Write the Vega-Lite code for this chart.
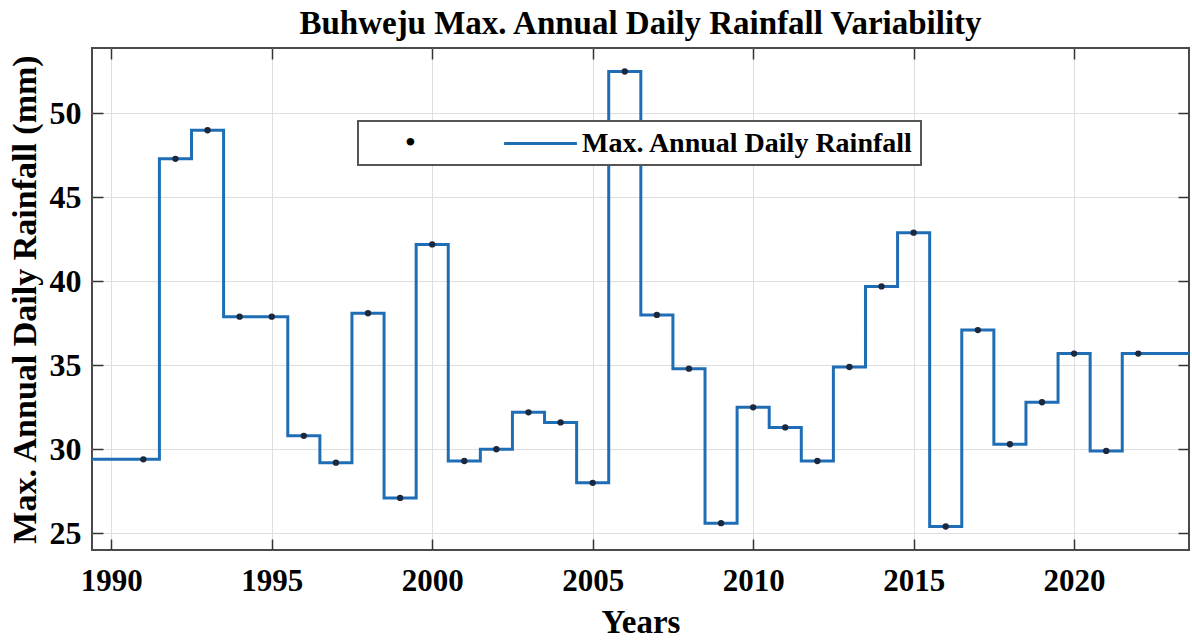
{
  "$schema": "https://vega.github.io/schema/vega-lite/v6.json",
  "width": 1097,
  "height": 502,
  "autosize": "none",
  "padding": {"left": 92, "top": 48, "right": 3, "bottom": 92},
  "background": "white",
  "config": {
    "font": "Liberation Serif",
    "view": {"stroke": "#4a4a4a", "strokeWidth": 2},
    "axis": {
      "labelFont": "Liberation Serif",
      "labelFontWeight": "bold",
      "labelColor": "black",
      "titleFont": "Liberation Serif",
      "titleFontWeight": "bold",
      "titleColor": "black",
      "gridColor": "#dedede",
      "gridWidth": 1,
      "domain": false,
      "tickColor": "#333333",
      "tickWidth": 1.5
    }
  },
  "title": {
    "text": "Buhweju Max. Annual Daily Rainfall Variability",
    "fontSize": 33,
    "font": "Liberation Serif",
    "fontWeight": "bold",
    "color": "black",
    "anchor": "middle",
    "offset": 6
  },
  "data": {
    "values": [
      {"year": 1989, "value": 29.4},
      {"year": 1991, "value": 29.4},
      {"year": 1992, "value": 47.3},
      {"year": 1993, "value": 49.0},
      {"year": 1994, "value": 37.9},
      {"year": 1995, "value": 37.9},
      {"year": 1996, "value": 30.8},
      {"year": 1997, "value": 29.2},
      {"year": 1998, "value": 38.1},
      {"year": 1999, "value": 27.1},
      {"year": 2000, "value": 42.2},
      {"year": 2001, "value": 29.3},
      {"year": 2002, "value": 30.0},
      {"year": 2003, "value": 32.2},
      {"year": 2004, "value": 31.6},
      {"year": 2005, "value": 28.0},
      {"year": 2006, "value": 52.5},
      {"year": 2007, "value": 38.0},
      {"year": 2008, "value": 34.8},
      {"year": 2009, "value": 25.6},
      {"year": 2010, "value": 32.5},
      {"year": 2011, "value": 31.3},
      {"year": 2012, "value": 29.3},
      {"year": 2013, "value": 34.9},
      {"year": 2014, "value": 39.7},
      {"year": 2015, "value": 42.9},
      {"year": 2016, "value": 25.4},
      {"year": 2017, "value": 37.1},
      {"year": 2018, "value": 30.3},
      {"year": 2019, "value": 32.8},
      {"year": 2020, "value": 35.7},
      {"year": 2021, "value": 29.9},
      {"year": 2022, "value": 35.7},
      {"year": 2024, "value": 35.7}
    ]
  },
  "layer": [
    {
      "mark": {"type": "line", "interpolate": "step", "clip": true, "strokeWidth": 3},
      "encoding": {
        "x": {
          "field": "year",
          "type": "quantitative",
          "scale": {"domain": [1989.4, 2023.58], "nice": false, "zero": false},
          "axis": {
            "orient": "bottom",
            "values": [1990, 1995, 2000, 2005, 2010, 2015, 2020],
            "format": "d",
            "labelFontSize": 31,
            "tickSize": -11,
            "labelPadding": 27,
            "title": "Years",
            "titleFontSize": 33,
            "titlePadding": 10
          }
        },
        "y": {
          "field": "value",
          "type": "quantitative",
          "scale": {"domain": [24, 53.9], "nice": false, "zero": false},
          "axis": {
            "orient": "left",
            "values": [25, 30, 35, 40, 45, 50],
            "labelFontSize": 32,
            "tickSize": -11,
            "labelPadding": 22,
            "title": "Max. Annual Daily Rainfall (mm)",
            "titleFontSize": 34,
            "titlePadding": 7
          }
        },
        "color": {
          "datum": "Max. Annual Daily Rainfall",
          "scale": {"range": ["#1f6db5"]},
          "legend": {
            "orient": "none",
            "legendX": 266,
            "legendY": 73,
            "direction": "horizontal",
            "title": "\u200b\u00a0\u00a0\u00a0\u00a0\u00a0\u2009\u2022",
            "titleOrient": "left",
            "titleFontSize": 28,
            "titleFont": "Liberation Serif",
            "titleColor": "black",
            "titlePadding": 109,
            "symbolType": "M-2.6,0H2.6",
            "symbolSize": 784,
            "symbolStrokeWidth": 3,
            "labelFont": "Liberation Serif",
            "labelFontSize": 28,
            "labelFontWeight": "bold",
            "labelColor": "black",
            "labelOffset": 26,
            "labelLimit": 600,
            "padding": 7,
            "strokeColor": "#555555",
            "fillColor": "white",
            "encode": {"legend": {"update": {"strokeWidth": {"value": 2}}}}
          }
        }
      }
    },
    {
      "transform": [{"filter": "datum.year >= 1991 && datum.year <= 2022"}],
      "mark": {"type": "point", "filled": true, "size": 40, "color": "#1a2840", "opacity": 1},
      "encoding": {
        "x": {
          "field": "year",
          "type": "quantitative",
          "axis": {
            "orient": "top",
            "values": [1990, 1995, 2000, 2005, 2010, 2015, 2020],
            "labels": false,
            "grid": false,
            "title": null,
            "tickSize": -11,
            "minExtent": 0,
            "maxExtent": 0
          }
        },
        "y": {
          "field": "value",
          "type": "quantitative",
          "axis": {
            "orient": "right",
            "values": [25, 30, 35, 40, 45, 50],
            "labels": false,
            "grid": false,
            "title": null,
            "tickSize": -11,
            "minExtent": 0,
            "maxExtent": 0
          }
        }
      }
    }
  ],
  "resolve": {"axis": {"x": "independent", "y": "independent"}}
}
